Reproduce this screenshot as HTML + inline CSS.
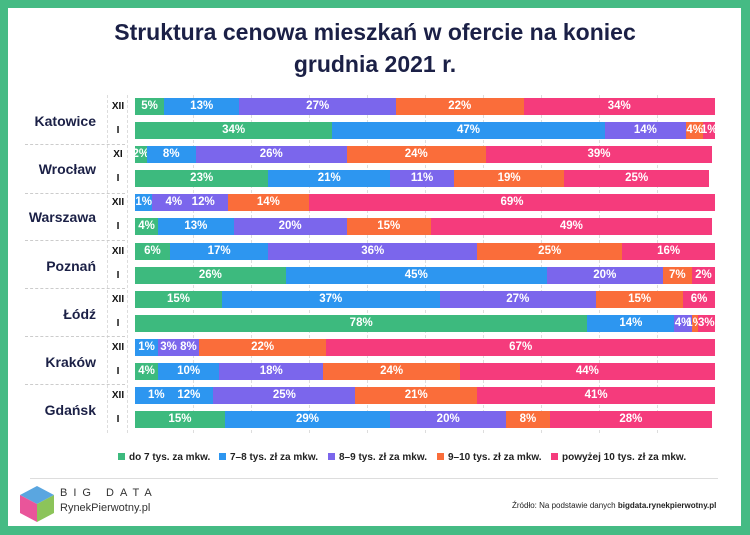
<!DOCTYPE html>
<html><head><meta charset="utf-8"><style>
*{margin:0;padding:0;box-sizing:border-box}
body{width:750px;height:535px;background:#45bb84;position:relative;font-family:"Liberation Sans",sans-serif;overflow:hidden}
.card{position:absolute;left:8px;top:8px;width:733px;height:518px;background:#fff}
.title{position:absolute;left:0;width:750px;top:16px;text-align:center;font-weight:bold;font-size:23px;color:#1b2046;line-height:32px}
.bar{position:absolute;left:135px;width:580px;height:17px;display:flex}
.bar div{height:17px;color:#fff;font-weight:bold;font-size:11.5px;line-height:17px;display:flex;justify-content:center;white-space:nowrap;overflow:visible}
.g{background:#3dba7e}.b{background:#2d96f0}.p{background:#7b66ec}.o{background:#fa6d3a}.k{background:#f53b7c}
.city{position:absolute;left:20px;width:76px;text-align:right;font-weight:bold;font-size:14px;color:#1b2046}
.per{position:absolute;left:108px;width:20px;text-align:center;font-weight:bold;font-size:10px;color:#111}
.hl{position:absolute;left:25px;width:100px;border-top:1px dashed #ccc}
.vl{position:absolute;top:95px;height:338px;border-left:1px dashed #ddd}
.leg{position:absolute;top:452px;font-size:10px;font-weight:bold;color:#222}
.leg span{display:inline-block;width:7px;height:7px;margin-right:4px}
</style></head><body>
<div class="card"></div>
<div class="title">Struktura cenowa mieszkań w ofercie na koniec<br>grudnia 2021 r.</div>
<div class="vl" style="left:107px"></div><div class="vl" style="left:127px"></div>
<div class="vl" style="left:193px"></div><div class="vl" style="left:251px"></div><div class="vl" style="left:309px"></div><div class="vl" style="left:367px"></div><div class="vl" style="left:425px"></div><div class="vl" style="left:483px"></div><div class="vl" style="left:541px"></div><div class="vl" style="left:599px"></div><div class="vl" style="left:657px"></div>
<div class="hl" style="top:144px"></div><div class="hl" style="top:193px"></div><div class="hl" style="top:240px"></div><div class="hl" style="top:288px"></div><div class="hl" style="top:336px"></div><div class="hl" style="top:384px"></div>

<div class="city" style="top:113px">Katowice</div>
<div class="city" style="top:161px">Wrocław</div>
<div class="city" style="top:209px">Warszawa</div>
<div class="city" style="top:258px">Poznań</div>
<div class="city" style="top:306px">Łódź</div>
<div class="city" style="top:354px">Kraków</div>
<div class="city" style="top:402px">Gdańsk</div>

<div class="per" style="top:101px">XII</div><div class="per" style="top:125px">I</div>
<div class="per" style="top:149px">XI</div><div class="per" style="top:173px">I</div>
<div class="per" style="top:197px">XII</div><div class="per" style="top:221px">I</div>
<div class="per" style="top:246px">XII</div><div class="per" style="top:270px">I</div>
<div class="per" style="top:294px">XII</div><div class="per" style="top:318px">I</div>
<div class="per" style="top:342px">XII</div><div class="per" style="top:366px">I</div>
<div class="per" style="top:390px">XII</div><div class="per" style="top:414px">I</div>

<div class="bar" style="top:98px"><div class="g" style="width:5%">5%</div><div class="b" style="width:13%">13%</div><div class="p" style="width:27%">27%</div><div class="o" style="width:22%">22%</div><div class="k" style="width:33%">34%</div></div>
<div class="bar" style="top:122px"><div class="g" style="width:34%">34%</div><div class="b" style="width:47%">47%</div><div class="p" style="width:14%">14%</div><div class="o" style="width:3%">4%</div><div class="k" style="width:2%">1%</div></div>
<div class="bar" style="top:146px"><div class="g" style="width:2%">2%</div><div class="b" style="width:8.5%">8%</div><div class="p" style="width:26%">26%</div><div class="o" style="width:24%">24%</div><div class="k" style="width:39%">39%</div></div>
<div class="bar" style="top:170px"><div class="g" style="width:23%">23%</div><div class="b" style="width:21%">21%</div><div class="p" style="width:11%">11%</div><div class="o" style="width:19%">19%</div><div class="k" style="width:25%">25%</div></div>
<div class="bar" style="top:194px"><div class="b" style="width:3%">1%</div><div class="p" style="width:13%">4%&nbsp;&nbsp;&nbsp;12%</div><div class="o" style="width:14%">14%</div><div class="k" style="width:70%">69%</div></div>
<div class="bar" style="top:218px"><div class="g" style="width:4%">4%</div><div class="b" style="width:13%">13%</div><div class="p" style="width:19.5%">20%</div><div class="o" style="width:14.5%">15%</div><div class="k" style="width:48.5%">49%</div></div>
<div class="bar" style="top:243px"><div class="g" style="width:6%">6%</div><div class="b" style="width:17%">17%</div><div class="p" style="width:36%">36%</div><div class="o" style="width:25%">25%</div><div class="k" style="width:16%">16%</div></div>
<div class="bar" style="top:267px"><div class="g" style="width:26%">26%</div><div class="b" style="width:45%">45%</div><div class="p" style="width:20%">20%</div><div class="o" style="width:5%">7%</div><div class="k" style="width:4%">2%</div></div>
<div class="bar" style="top:291px"><div class="g" style="width:15%">15%</div><div class="b" style="width:37.5%">37%</div><div class="p" style="width:27%">27%</div><div class="o" style="width:15%">15%</div><div class="k" style="width:5.5%">6%</div></div>
<div class="bar" style="top:315px"><div class="g" style="width:78%">78%</div><div class="b" style="width:15%">14%</div><div class="p" style="width:3%">4%</div><div class="o" style="width:1%">1%</div><div class="k" style="width:3%">3%</div></div>
<div class="bar" style="top:339px"><div class="b" style="width:4%">1%</div><div class="p" style="width:7%">3% 8%</div><div class="o" style="width:22%">22%</div><div class="k" style="width:67%">67%</div></div>
<div class="bar" style="top:363px"><div class="g" style="width:4%">4%</div><div class="b" style="width:10.5%">10%</div><div class="p" style="width:18%">18%</div><div class="o" style="width:23.5%">24%</div><div class="k" style="width:44%">44%</div></div>
<div class="bar" style="top:387px"><div class="b" style="width:13.5%">1%&nbsp;&nbsp;&nbsp;&nbsp;12%</div><div class="p" style="width:24.5%">25%</div><div class="o" style="width:21%">21%</div><div class="k" style="width:41%">41%</div></div>
<div class="bar" style="top:411px"><div class="g" style="width:15.5%">15%</div><div class="b" style="width:28.5%">29%</div><div class="p" style="width:20%">20%</div><div class="o" style="width:7.5%">8%</div><div class="k" style="width:28%">28%</div></div>

<div class="leg" style="left:118px"><span class="g"></span>do 7 tys. za mkw.</div>
<div class="leg" style="left:219px"><span class="b"></span>7–8 tys. zł za mkw.</div>
<div class="leg" style="left:328px"><span class="p"></span>8–9 tys. zł za mkw.</div>
<div class="leg" style="left:437px"><span class="o"></span>9–10 tys. zł za mkw.</div>
<div class="leg" style="left:551px"><span class="k"></span>powyżej 10 tys. zł za mkw.</div>
<div style="position:absolute;left:30px;top:478px;width:688px;border-top:1px solid #ddd"></div>
<svg style="position:absolute;left:18px;top:484px" width="38" height="40" viewBox="0 0 38 40">
<polygon points="19,2 36,11 19,20 2,11" fill="#5aa6e0"/><polygon points="2,11 19,20 19,38 2,29" fill="#e9559a"/><polygon points="36,11 19,20 19,38 36,29" fill="#8cc45a"/></svg>
<div style="position:absolute;left:60px;top:487px;font-size:11px;letter-spacing:6px;color:#333">BIG DATA</div>
<div style="position:absolute;left:60px;top:502px;font-size:11px;color:#333">RynekPierwotny.pl</div>
<div style="position:absolute;left:512px;top:501px;font-size:8px;color:#222">Źródło: Na podstawie danych <b>bigdata.rynekpierwotny.pl</b></div>
</body></html>
